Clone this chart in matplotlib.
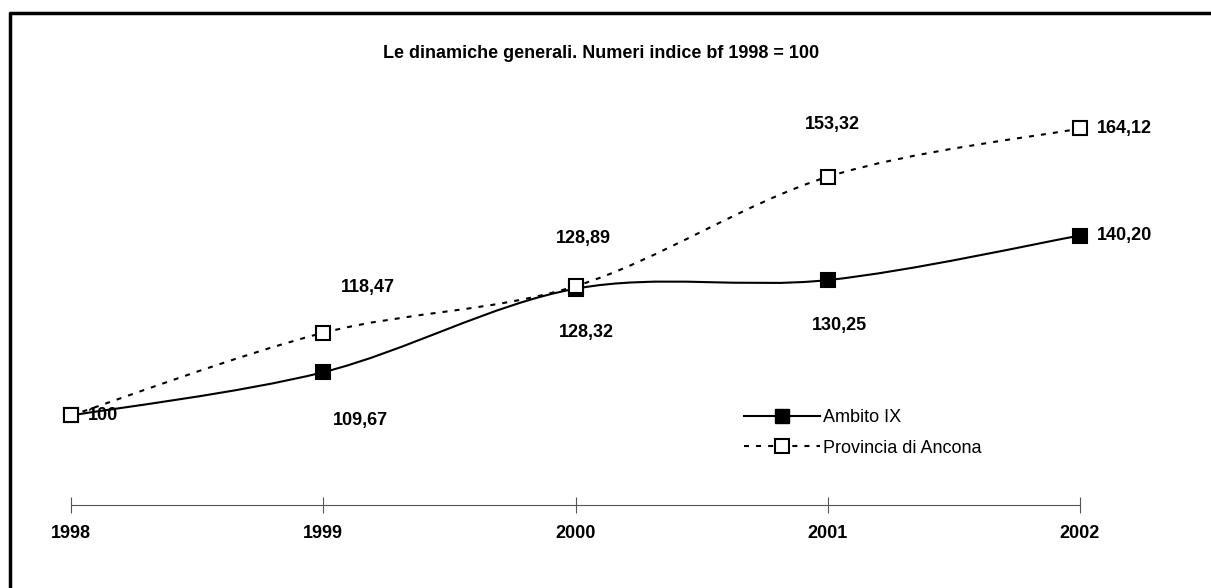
import numpy as np
import matplotlib
matplotlib.use("Agg")
import matplotlib.pyplot as plt
from matplotlib.path import Path
from matplotlib.patches import PathPatch
from matplotlib.lines import Line2D

plt.rcParams['font.family'] = ['Liberation Sans', 'DejaVu Sans']

anni = [1998, 1999, 2000, 2001, 2002]
ambito = [100, 109.67, 128.32, 130.25, 140.20]
provincia = [100, 118.47, 128.89, 153.32, 164.12]
etich_ambito = ["100", "109,67", "128,32", "130,25", "140,20"]
etich_prov = ["", "118,47", "128,89", "153,32", "164,12"]
titolo = "Le dinamiche generali. Numeri indice bf 1998 = 100"


def curva_liscia(x, y):
    # bezier tipo Excel (linea smussata) attraverso i punti
    x = np.asarray(x, float)
    y = np.asarray(y, float)
    n = len(x)
    verts = [(x[0], y[0])]
    codes = [Path.MOVETO]
    for i in range(n - 1):
        a = max(i - 1, 0)
        b = min(i + 2, n - 1)
        c1 = (x[i] + (x[i + 1] - x[a]) / 6, y[i] + (y[i + 1] - y[a]) / 6)
        c2 = (x[i + 1] - (x[b] - x[i]) / 6, y[i + 1] - (y[b] - y[i]) / 6)
        verts += [c1, c2, (x[i + 1], y[i + 1])]
        codes += [Path.CURVE4] * 3
    return Path(verts, codes)


fig = plt.figure(figsize=(12.11, 5.88), dpi=100)
ax = fig.add_axes([71 / 1211, (588 - 505) / 588, (1080 - 71) / 1211, (505 - 57.4) / 588])
ax.set_xlim(1998, 2002)
ax.set_ylim(80, 180)

tratt = (0, (2.4, 3.4))
ax.add_patch(PathPatch(curva_liscia(anni, provincia), fill=False, lw=1.5,
                       ls=tratt, edgecolor='black', zorder=2))
ax.add_patch(PathPatch(curva_liscia(anni, ambito), fill=False, lw=1.5,
                       edgecolor='black', zorder=3))
ax.plot(anni, ambito, ls='none', marker='s', ms=10, mfc='black', mec='black',
        mew=1.5, zorder=4, clip_on=False)
ax.plot(anni, provincia, ls='none', marker='s', ms=10, mfc='white', mec='black',
        mew=1.5, zorder=5, clip_on=False)

off_amb = [(17, 0), (37, -48), (11, -44), (12, -45), (17, 0)]
off_prov = [(0, 0), (45, 45), (8, 48), (5, 52), (17, 0)]
for i in range(len(anni)):
    ha = 'left' if i in (0, 4) else 'center'
    ax.annotate(etich_ambito[i], (anni[i], ambito[i]), xytext=off_amb[i],
                textcoords='offset pixels', ha=ha, va='center',
                fontsize=13, fontweight='bold', zorder=6)
    if etich_prov[i]:
        ax.annotate(etich_prov[i], (anni[i], provincia[i]), xytext=off_prov[i],
                    textcoords='offset pixels', ha=ha, va='center',
                    fontsize=13, fontweight='bold', zorder=6)

for s in ['left', 'right', 'top']:
    ax.spines[s].set_visible(False)
ax.spines['bottom'].set_color('#555555')
ax.spines['bottom'].set_linewidth(0.8)
ax.set_yticks([])
ax.set_xticks(anni)
ax.set_xticklabels([str(a) for a in anni], fontsize=13, fontweight='bold')
ax.tick_params(axis='x', direction='inout', length=11, width=0.8,
               color='#555555', pad=9)

fig.text(601 / 1211, 1 - 54 / 588, titolo, ha='center', va='center',
         fontsize=13, fontweight='bold')

h1 = Line2D([], [], color='black', lw=1.5, marker='s', ms=10, mfc='black', mec='black')
h2 = Line2D([], [], color='black', lw=1.5, ls=tratt, marker='s', ms=10,
            mfc='white', mec='black', mew=1.5)
fig.legend([h1, h2], ["Ambito IX", "Provincia di Ancona"], loc='upper left',
           bbox_to_anchor=(735 / 1211, 1 - 400 / 588), frameon=False,
           fontsize=13, handlelength=4.2, handletextpad=0.2,
           labelspacing=0.75, numpoints=1, borderpad=0)

# cornice (solo sopra e a sinistra visibili)
fig.add_artist(Line2D([10.5 / 1211, 10.5 / 1211], [0, 1 - 12 / 588],
                      transform=fig.transFigure, color='black', lw=2.5,
                      solid_capstyle='butt'))
fig.add_artist(Line2D([9 / 1211, 1], [1 - 13 / 588, 1 - 13 / 588],
                      transform=fig.transFigure, color='black', lw=2.5,
                      solid_capstyle='butt'))

fig.savefig("out.png", dpi=100)
